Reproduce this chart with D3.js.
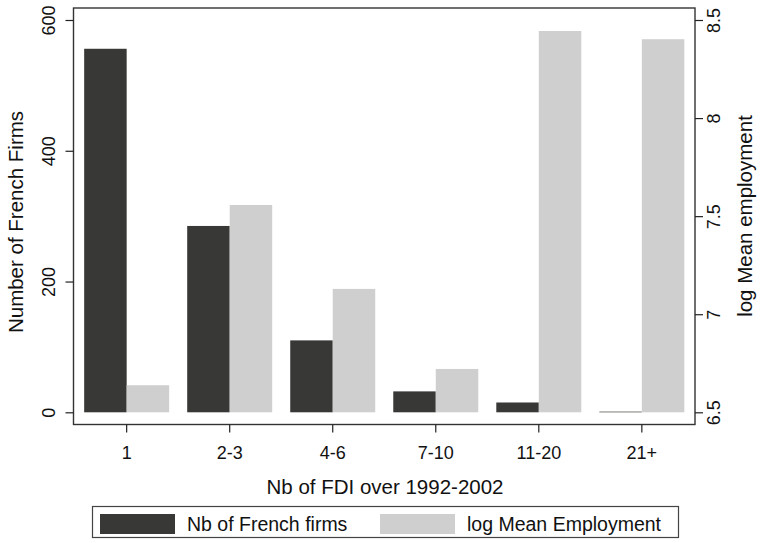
<!DOCTYPE html>
<html>
<head>
<meta charset="utf-8">
<script src="https://cdn.jsdelivr.net/npm/d3@7/dist/d3.min.js"></script>
<style>
  html, body { margin: 0; padding: 0; background: #fff; }
  svg text { font-family: "Liberation Sans", Arial, sans-serif; fill: #111; }
</style>
</head>
<body>
<svg id="chart" width="761" height="543"></svg>
<script>
const categories = ["1", "2-3", "4-6", "7-10", "11-20", "21+"];
const nbFirms = [556, 285, 110, 32, 15, 1];
const logMeanEmp = [6.638, 7.557, 7.129, 6.721, 8.444, 8.402];
const leftTicks = [0, 200, 400, 600];
const rightTicks = [6.5, 7, 7.5, 8, 8.5];
const seriesNames = ["Nb of French firms", "log Mean Employment"];
const seriesColors = ["#383836", "#cfcfcf"];

const svg = d3.select("#chart");
const frame = { left: 73.5, right: 695, top: 8, bottom: 424.5 };

const x = d3.scaleBand().domain(categories).range([frame.left, frame.right])
  .paddingInner(0.175).paddingOuter(0.1035);
const xSub = d3.scaleBand().domain([0, 1]).range([0, x.bandwidth()]);
const yL = d3.scaleLinear().domain([0, 600]).range([412.3, 20]);
const yR = d3.scaleLinear().domain([6.5, 8.5]).range([412.3, 20]);

// bars
const g = svg.append("g");
g.selectAll("rect.n").data(categories).join("rect")
  .attr("x", (c) => x(c) + xSub(0))
  .attr("width", xSub.bandwidth())
  .attr("y", (c, i) => yL(nbFirms[i]))
  .attr("height", (c, i) => yL(0) - yL(nbFirms[i]))
  .attr("fill", seriesColors[0]);
g.selectAll("rect.e").data(categories).join("rect")
  .attr("x", (c) => x(c) + xSub(1))
  .attr("width", xSub.bandwidth())
  .attr("y", (c, i) => yR(logMeanEmp[i]))
  .attr("height", (c, i) => yR(6.5) - yR(logMeanEmp[i]))
  .attr("fill", seriesColors[1]);

// frame
svg.append("rect").attr("x", frame.left).attr("y", frame.top)
  .attr("width", frame.right - frame.left).attr("height", frame.bottom - frame.top)
  .attr("fill", "none").attr("stroke", "#333").attr("stroke-width", 1.4);

const tickFont = "18px";
const titleFont = "20.5px";

// left axis
const axL = svg.append("g").attr("transform", `translate(${frame.left},0)`)
  .call(d3.axisLeft(yL).tickValues(leftTicks).tickSize(8).tickSizeOuter(0).tickFormat(d3.format("d")));
axL.select(".domain").remove();
axL.selectAll(".tick line").attr("stroke", "#222").attr("stroke-width", 1.2);
axL.selectAll(".tick text").attr("transform", "rotate(-90)").attr("x", 0).attr("y", -19)
  .attr("dy", 0).attr("text-anchor", "middle").style("font-size", tickFont);

// right axis
const axR = svg.append("g").attr("transform", `translate(${frame.right},0)`)
  .call(d3.axisRight(yR).tickValues(rightTicks).tickSize(8).tickSizeOuter(0).tickFormat(d3.format("")));
axR.select(".domain").remove();
axR.selectAll(".tick line").attr("stroke", "#222").attr("stroke-width", 1.2);
axR.selectAll(".tick text").attr("transform", "rotate(-90)").attr("x", 0).attr("y", 25)
  .attr("dy", 0).attr("text-anchor", "middle").style("font-size", tickFont);

// bottom axis
const axB = svg.append("g").attr("transform", `translate(0,${frame.bottom})`)
  .call(d3.axisBottom(x).tickSize(8).tickSizeOuter(0));
axB.select(".domain").remove();
axB.selectAll(".tick line").attr("stroke", "#222").attr("stroke-width", 1.2);
axB.selectAll(".tick text").attr("y", 22).attr("dy", "0.71em").style("font-size", tickFont);

// axis titles
svg.append("text").attr("transform", "translate(23,222) rotate(-90)")
  .attr("text-anchor", "middle").style("font-size", titleFont).text("Number of French Firms");
svg.append("text").attr("transform", "translate(752,216) rotate(-90)")
  .attr("text-anchor", "middle").style("font-size", titleFont).text("log Mean employment");
svg.append("text").attr("x", 385).attr("y", 494)
  .attr("text-anchor", "middle").style("font-size", titleFont).text("Nb of FDI over 1992-2002");

// legend
const lg = svg.append("g");
lg.append("rect").attr("x", 92.5).attr("y", 506.5).attr("width", 586).attr("height", 31)
  .attr("fill", "#fff").attr("stroke", "#444").attr("stroke-width", 1.2);
const legendX = [100, 380];
seriesNames.forEach((name, i) => {
  lg.append("rect").attr("x", legendX[i]).attr("y", 514).attr("width", 75).attr("height", 20)
    .attr("fill", seriesColors[i]);
  lg.append("text").attr("x", legendX[i] + 87).attr("y", 530.5)
    .style("font-size", "19.5px").text(name);
});
</script>
</body>
</html>
